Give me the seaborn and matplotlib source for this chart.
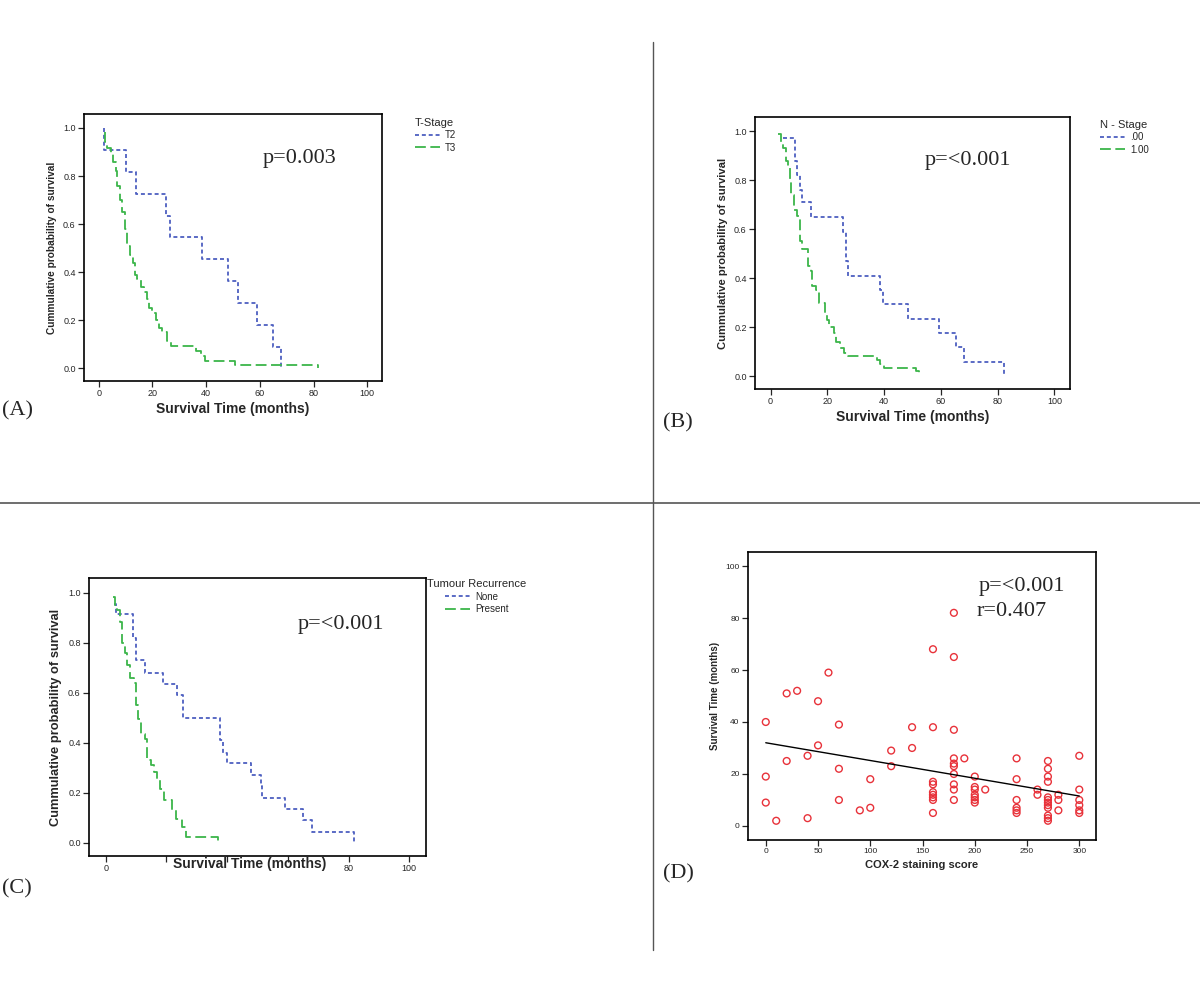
import numpy as np
import pandas as pd
import matplotlib
matplotlib.use("Agg")
import matplotlib.pyplot as plt
import seaborn as sns

# ---- data ----

# (A) T-stage
t2_time = [2, 2, 10, 14, 25, 26.5, 38.5, 48, 52, 59, 65, 68]
t2_surv = [1.0, 0.909, 0.818, 0.727, 0.636, 0.545, 0.455, 0.364, 0.273, 0.182, 0.091, 0.0]
t3_time = [2.2, 2.5, 3.1, 4.4, 5.3, 6.3, 6.9, 7.8, 8.6, 9.9, 10.7, 11.6, 12.6, 13.6, 14.4,
           15.7, 16.7, 17.8, 18.8, 20, 21.5, 22.5, 23.7, 25.6, 26.8, 36.3, 37.9, 39.4, 50.6, 81.5]
t3_surv = [0.985, 0.94, 0.915, 0.89, 0.86, 0.82, 0.76, 0.70, 0.65, 0.58, 0.51, 0.47, 0.44, 0.39, 0.37,
           0.34, 0.32, 0.29, 0.25, 0.23, 0.20, 0.17, 0.15, 0.115, 0.094, 0.074, 0.05, 0.032, 0.015, 0.0]

# (B) N-stage
n0_time = [4.5, 8.5, 9.4, 10.3, 11.1, 14.3, 25.6, 26.4, 27.2, 38.7, 39.5, 48.3, 59.2, 65.3, 68.2, 82.3]
n0_surv = [0.974, 0.88, 0.82, 0.76, 0.71, 0.65, 0.59, 0.47, 0.41, 0.35, 0.295, 0.235, 0.176, 0.118, 0.059, 0.0]
n1_time = [2.6, 3.6, 4.4, 5.3, 6.1, 6.8, 7.3, 8.2, 9.4, 10.2, 11.1, 13.1, 14.1, 14.7, 16.1, 17.0,
           19.0, 19.9, 20.5, 22.3, 23.2, 24.4, 26.0, 27.2, 37.5, 38.5, 39.9, 51.3, 52.4]
n1_surv = [0.988, 0.95, 0.93, 0.88, 0.855, 0.80, 0.74, 0.68, 0.655, 0.55, 0.52, 0.45, 0.43, 0.37, 0.35, 0.30,
           0.26, 0.23, 0.20, 0.175, 0.14, 0.115, 0.095, 0.084, 0.065, 0.05, 0.034, 0.02, 0.01]

# (C) tumour recurrence
none_time = [2.7, 3.5, 9.1, 9.9, 12.9, 18.9, 23.6, 25.4, 37.8, 38.6, 40.0, 47.9, 51.0, 51.5, 59.0, 64.9, 68.0, 81.9]
none_surv = [0.955, 0.913, 0.82, 0.73, 0.68, 0.636, 0.59, 0.5, 0.41, 0.36, 0.32, 0.273, 0.227, 0.18, 0.136, 0.09, 0.045, 0.0]
pres_time = [2.4, 3.1, 3.8, 4.6, 5.5, 6.4, 7.1, 7.9, 9.3, 9.9, 10.7, 11.7, 12.9, 13.7, 14.8, 15.9,
             17.0, 17.9, 19.2, 21.7, 23.0, 25.0, 26.3, 37.0]
pres_surv = [0.984, 0.944, 0.93, 0.884, 0.80, 0.757, 0.71, 0.657, 0.637, 0.55, 0.497, 0.437, 0.417, 0.33, 0.31, 0.283,
             0.256, 0.216, 0.17, 0.13, 0.096, 0.063, 0.023, 0.0]

# (D) COX-2 score vs survival
cox_score = [0, 0, 0, 10, 20, 20, 30, 40, 40, 50, 50, 60, 70, 70, 70, 90, 100, 100, 120, 120, 140, 140,
             160, 160, 160, 160, 160, 160, 160, 160, 160,
             180, 180, 180, 180, 180, 180, 180, 180, 180, 180, 190,
             200, 200, 200, 200, 200, 200, 200, 210,
             240, 240, 240, 240, 240, 240, 260, 260,
             270, 270, 270, 270, 270, 270, 270, 270, 270, 270, 270, 270,
             280, 280, 280, 300, 300, 300, 300, 300, 300]
surv_months = [40, 19, 9, 2, 51, 25, 52, 27, 3, 48, 31, 59, 39, 22, 10, 6, 18, 7, 29, 23, 38, 30,
               68, 38, 17, 16, 13, 12, 11, 10, 5,
               82, 65, 37, 26, 24, 23, 20, 16, 14, 10, 26,
               19, 15, 14, 12, 11, 10, 9, 14,
               26, 18, 10, 7, 6, 5, 14, 12,
               25, 22, 19, 17, 11, 10, 9, 8, 7, 4, 3, 2,
               12, 10, 6, 27, 14, 10, 8, 6, 5]

km_ticks = [0, 20, 40, 60, 80, 100]
km_tick_labels = ["0", "20", "40", "60", "80", "100"]
# panel C: middle labels are covered by the axis title in the source
km_tick_labels_c = ["0", "", "", "", "80", "100"]

sns.set_style("ticks")
plt.rcParams["font.family"] = ["Liberation Sans Narrow", "Liberation Sans", "DejaVu Sans"]

BLUE = "#4d5fc0"
GREEN = "#3cb54a"
W, H = 1200, 1002

fig = plt.figure(figsize=(12, 10.02), dpi=100)


def add_ax(left, top, right, bottom):
    return fig.add_axes([left / W, 1 - bottom / H, (right - left) / W, (bottom - top) / H])


def style_ax(ax):
    for s in ax.spines.values():
        s.set_linewidth(1.2)
        s.set_color("black")
    ax.tick_params(labelsize=6.5, length=4, width=0.9, pad=2)


def km_panel(ax, series, legend_title, legend_anchor, align, ylab_size, xlabels):
    for t, s, lab, col, ls in series:
        d = pd.DataFrame({"t": t, "s": s})
        sns.lineplot(data=d, x="t", y="s", ax=ax, color=col, linestyle=ls, linewidth=1.3,
                     drawstyle="steps-post", estimator=None, sort=False, label=lab)
    ax.set_xlim(-5.5, 105.5)
    ax.set_ylim(-0.052, 1.058)
    ax.set_xticks(km_ticks)
    ax.set_xticklabels(xlabels)
    ax.set_yticks([0, 0.2, 0.4, 0.6, 0.8, 1.0])
    ax.set_yticklabels(["0.0", "0.2", "0.4", "0.6", "0.8", "1.0"])
    ax.set_xlabel("Survival Time (months)", fontsize=10, fontweight="bold", labelpad=3)
    ax.set_ylabel("Cummulative probability of survival", fontsize=ylab_size, fontweight="bold", labelpad=4)
    style_ax(ax)
    leg = ax.legend(title=legend_title, loc="upper left", bbox_to_anchor=legend_anchor,
                    frameon=False, handlelength=2.6,
                    handletextpad=0.5, borderpad=0, borderaxespad=0, labelspacing=0.25,
                    alignment=align, prop={"family": ["Liberation Sans", "DejaVu Sans"], "size": 7})
    leg.get_title().set_family(["Liberation Sans", "DejaVu Sans"])
    leg.get_title().set_fontsize(8)


blue_ls = (0, (2.2, 1.6))
green_ls = (0, (6, 2.5))

# (A)
axA = add_ax(84, 114, 382, 381)
km_panel(axA, [(t2_time, t2_surv, "T2", BLUE, blue_ls), (t3_time, t3_surv, "T3", GREEN, green_ls)],
         "T-Stage", (1.11, 0.985), "left", 7.3, km_tick_labels)

# (B)
axB = add_ax(755, 117, 1070, 389)
km_panel(axB, [(n0_time, n0_surv, ".00", BLUE, blue_ls), (n1_time, n1_surv, "1.00", GREEN, green_ls)],
         "N - Stage", (1.095, 0.99), "left", 8.1, km_tick_labels)

# (C)
axC = add_ax(89, 578, 426, 856)
km_panel(axC, [(none_time, none_surv, "None", BLUE, blue_ls), (pres_time, pres_surv, "Present", GREEN, green_ls)],
         "Tumour Recurrence", (1.003, 0.995), "center", 9.3, km_tick_labels_c)
# in the source the x label sits right under the axis, over the middle tick labels
axC.xaxis.set_label_coords(0.478, -0.005)

# (D)
axD = add_ax(748, 552, 1096, 840)
dfD = pd.DataFrame({"score": cox_score, "months": surv_months})
sns.scatterplot(data=dfD, x="score", y="months", ax=axD, marker="o", s=24,
                facecolors="none", edgecolor="#e8323a", linewidth=1.0)
sns.regplot(data=dfD, x="score", y="months", ax=axD, scatter=False, ci=None,
            line_kws={"color": "black", "linewidth": 1.0}, truncate=True)
axD.set_xlim(-17, 316)
axD.set_ylim(-5.4, 105.4)
axD.set_xticks([0, 50, 100, 150, 200, 250, 300])
axD.set_yticks([0, 20, 40, 60, 80, 100])
axD.set_xlabel("COX-2 staining score", fontsize=8, fontweight="bold", labelpad=3,
               family=["Liberation Sans", "DejaVu Sans"])
axD.set_ylabel("Survival Time (months)", fontsize=7, fontweight="bold", labelpad=4,
               family=["Liberation Sans", "DejaVu Sans"])
style_ax(axD)
axD.tick_params(labelsize=6)

# p-values and panel letters
serif = ["Liberation Serif", "DejaVu Serif"]
def ftext(x, y, s, size=16, ha="center"):
    fig.text(x / W, 1 - y / H, s, fontsize=size, family=serif, ha=ha, va="center")

ftext(300, 158, "p=0.003")
ftext(968, 160, "p=<0.001")
ftext(341, 625, "p=<0.001")
ftext(979, 586, "p=<0.001", ha="left")
ftext(977, 612, "r=0.407", ha="left")
ftext(2, 411, "(A)", ha="left")
ftext(663, 423, "(B)", ha="left")
ftext(2, 889, "(C)", ha="left")
ftext(663, 874, "(D)", ha="left")

# divider lines
fig.add_artist(plt.Line2D([653 / W, 653 / W], [1 - 42 / H, 1 - 950 / H], color="#555555", linewidth=1.0))
fig.add_artist(plt.Line2D([0, 1], [1 - 503 / H, 1 - 503 / H], color="#555555", linewidth=1.2))

fig.savefig("out.png", dpi=100, facecolor="white")
